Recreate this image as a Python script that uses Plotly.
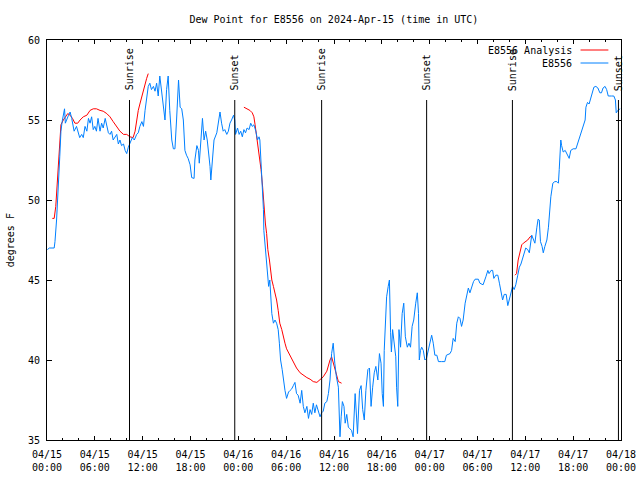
import pandas as pd
import plotly.graph_objects as go

START = pd.Timestamp("2024-04-15 00:00")

# Observed dew point (E8556): hours after start, degrees F
obs_hours = [0.05,0.3,0.9,1.0,1.2,1.4,1.6,1.75,1.9,2.2,2.3,2.7,2.9,3.1,3.3,3.4,3.7,3.9,4.1,4.35,4.55,4.77,5.0,5.2,5.4,5.6,5.8,6.0,6.2,6.4,6.65,6.85,7.05,7.3,7.5,7.7,7.9,8.1,8.3,8.5,8.75,8.95,9.15,9.35,9.6,9.8,10.0,10.2,10.4,10.7,10.95,11.25,11.45,11.65,11.9,12.1,12.3,12.5,12.7,12.9,13.1,13.35,13.55,13.75,13.95,14.15,14.4,14.6,14.8,15.0,15.2,15.4,15.65,15.85,16.05,16.25,16.5,16.7,16.9,17.1,17.3,17.5,17.7,17.95,18.15,18.45,18.55,18.8,19.0,19.1,19.3,19.5,19.7,19.9,20.1,20.3,20.45,20.55,20.75,20.95,21.3,21.5,21.7,21.9,22.1,22.3,22.55,22.75,22.95,23.15,23.4,23.55,23.65,23.9,24.1,24.3,24.5,24.7,24.9,25.1,25.35,25.55,25.75,25.95,26.2,26.4,26.6,26.7,26.85,26.95,27.05,27.15,27.2,27.35,27.5,27.6,27.8,27.95,28.05,28.2,28.4,28.6,28.8,29.0,29.15,29.3,29.5,29.65,29.85,30.05,30.3,30.5,30.7,30.9,31.1,31.3,31.5,31.75,31.95,32.15,32.35,32.6,32.8,33.0,33.2,33.4,33.6,33.8,34.0,34.25,34.45,34.65,34.85,35.1,35.3,35.5,35.7,35.9,36.1,36.3,36.55,36.75,36.9,37.05,37.25,37.4,37.6,37.8,38.0,38.2,38.4,38.65,38.85,38.95,39.2,39.4,39.6,39.8,40.0,40.25,40.45,40.65,40.85,41.05,41.25,41.5,41.7,41.9,42.05,42.2,42.3,42.45,42.6,42.8,42.95,43.1,43.2,43.35,43.5,43.75,43.85,44.0,44.15,44.35,44.55,44.75,44.95,45.2,45.4,45.6,45.8,46.0,46.25,46.45,46.6,46.7,46.85,47.0,47.2,47.4,47.6,47.8,48.05,48.25,48.45,48.65,48.9,49.1,49.5,49.9,50.1,50.55,50.75,50.95,51.2,51.4,51.6,51.8,52.0,52.2,52.45,52.65,52.85,53.05,53.3,53.5,53.7,54.1,54.3,54.7,55.05,55.3,55.45,55.7,55.9,56.05,56.3,56.55,56.75,56.95,57.15,57.35,57.6,57.8,58.0,58.2,58.4,58.6,58.8,59.05,59.25,59.45,59.65,59.85,60.05,60.3,60.5,60.8,61.0,61.2,61.45,61.6,61.75,61.9,62.1,62.25,62.45,62.7,62.9,63.1,63.2,63.45,63.7,63.95,64.15,64.25,64.45,64.55,64.75,65.0,65.25,65.5,65.7,66.0,66.35,66.6,66.9,67.2,67.5,67.6,67.8,68.0,68.2,68.4,68.6,68.85,69.1,69.35,69.55,69.75,70.0,70.2,70.4,70.8,71.1,71.3,71.4,71.6,71.9]
obs_values = [46.9,47.0,47.0,47.4,48.75,50.4,52.7,54.3,54.9,55.7,54.8,55.3,55.5,55.1,54.6,54.3,54.6,54.3,53.9,54.1,53.9,54.6,54.3,55.1,54.8,55.2,54.4,54.6,54.3,55.1,54.3,54.8,54.5,55.1,54.7,54.2,54.1,54.3,53.75,53.9,54.1,53.5,53.75,53.4,53.5,53.1,52.9,53.3,53.5,53.9,53.75,54.1,54.2,54.6,54.9,54.6,55.6,56.5,57.1,57.3,56.9,57.1,56.8,57.3,56.5,57.75,56.7,55.8,55.0,56.9,57.75,55.6,53.75,53.2,53.2,55.0,57.5,55.8,55.7,55.0,53.1,52.8,52.6,52.2,51.4,51.35,52.5,53.4,53.1,52.3,53.5,55.1,53.75,54.3,53.75,52.9,52.1,51.25,52.5,53.75,54.2,54.8,55.5,54.8,54.3,54.4,54.1,54.3,54.8,55.0,55.3,55.0,54.1,54.5,54.1,54.3,53.95,54.4,54.2,54.5,54.4,54.8,54.6,54.7,54.3,53.75,53.95,53.75,52.5,51.7,50.4,49.4,48.1,47.1,46.25,45.4,44.6,45.0,44.0,42.9,42.3,42.5,42.3,41.9,41.05,40.0,39.4,38.75,38.1,37.6,38.0,38.1,38.2,38.4,38.6,37.9,37.8,37.3,38.1,37.1,36.7,37.1,36.35,36.9,36.6,37.3,36.7,37.2,36.9,36.45,36.7,36.8,37.3,37.4,37.9,38.75,40.4,41.05,39.8,38.95,38.3,35.2,36.45,37.4,37.1,36.05,36.6,35.8,35.7,35.6,35.2,37.9,36.25,35.4,38.1,38.4,36.9,36.25,38.1,39.4,39.5,37.1,38.3,39.2,39.6,38.75,40.4,39.8,37.9,37.1,40.6,42.4,43.95,44.6,45.0,41.7,40.5,41.9,41.25,40.2,38.3,37.1,41.9,40.8,42.9,43.55,41.45,40.8,41.05,40.8,42.1,42.5,43.55,44.2,42.9,40.0,40.6,40.8,40.6,40.0,40.1,40.6,41.15,41.55,41.05,40.3,40.3,39.9,39.9,39.9,40.3,40.4,40.6,41.35,41.15,42.3,42.7,42.6,42.1,42.5,43.55,43.95,44.5,44.2,44.6,44.9,45.05,45.05,44.8,44.7,45.2,45.6,45.4,45.6,45.6,45.1,45.3,45.3,44.8,44.3,43.75,44.1,44.1,43.4,43.85,44.3,44.6,44.4,44.7,45.3,45.8,46.0,46.35,46.6,47.0,46.9,46.7,47.8,47.5,47.3,48.3,48.8,48.75,47.4,47.1,46.7,47.1,47.5,48.3,49.4,50.2,51.05,51.15,51.15,51.05,51.9,53.75,53.4,53.0,53.1,52.8,52.6,53.1,53.2,53.2,53.6,54.1,54.6,55.0,55.8,56.1,56.0,56.35,56.7,57.05,57.1,57.0,56.7,56.7,57.0,57.1,56.9,56.5,56.5,56.5,56.25,55.45,55.6,55.7]

# Analysis (three segments separated by gaps)
ana_hours = [0.67,0.9,1.1,1.25,1.4,1.6,1.75,2.05,2.35,2.6,2.9,3.2,3.5,3.85,4.15,4.55,5.0,5.4,5.8,6.2,6.65,7.05,7.5,7.9,8.3,8.75,9.15,9.6,10.0,10.4,10.8,11.05,11.25,11.45,11.65,11.9,12.1,12.3,12.5,12.7,
             12.8,
             24.7,25.1,25.45,25.75,25.95,26.1,26.3,26.5,26.7,26.85,27.05,27.2,27.4,27.55,27.7,27.9,28.05,28.2,28.4,28.6,28.8,29.0,29.2,29.45,29.65,29.85,30.05,30.5,30.9,31.3,31.75,32.15,32.6,33.0,33.4,33.85,34.25,34.65,35.1,35.3,35.5,35.7,35.9,36.1,36.35,36.55,36.95,
             37.0,
             58.7,58.9,59.1,59.35,59.55,59.75,60.05,60.3,60.6,60.85]
ana_values = [48.85,48.85,49.6,50.8,52.5,53.95,54.7,55.0,55.2,55.4,55.3,55.1,54.8,54.8,55.0,55.2,55.3,55.6,55.7,55.7,55.6,55.55,55.4,55.2,54.9,54.6,54.3,54.1,54.1,53.95,53.9,54.3,55.0,55.6,56.0,56.5,56.9,57.3,57.6,57.9,
              None,
              55.8,55.7,55.6,55.45,55.2,54.7,53.95,53.3,52.7,51.9,50.8,49.6,48.5,47.9,46.9,46.25,45.6,45.0,44.6,44.2,43.75,43.1,42.3,41.9,41.35,41.05,40.7,40.3,39.9,39.5,39.2,39.05,38.9,38.8,38.65,38.6,38.8,38.95,39.3,39.7,40.0,40.2,39.8,39.4,38.95,38.65,38.55,
              None,
              45.3,45.4,46.25,46.8,47.2,47.3,47.4,47.5,47.7,47.75]

sun_labels = ["Sunrise", "Sunset", "Sunrise", "Sunset", "Sunrise", "Sunset"]
sun_hours = [10.35, 23.55, 34.45, 47.62, 58.38, 71.68]

tick_hours = list(range(0, 73, 6))

def to_time(hours):
    return [START + pd.Timedelta(hours=h) for h in hours]

FONT = "DejaVu Sans Mono"
RED = "#ff0000"
BLUE = "#0080ff"

fig = go.Figure()
fig.add_trace(go.Scatter(x=to_time(ana_hours), y=ana_values, mode="lines",
                         name="E8556 Analysis", line=dict(color=RED, width=1),
                         connectgaps=False, showlegend=False))
fig.add_trace(go.Scatter(x=to_time(obs_hours), y=obs_values, mode="lines",
                         name="E8556", line=dict(color=BLUE, width=1),
                         showlegend=False))

# Sunrise / sunset markers
for lab, h in zip(sun_labels, sun_hours):
    t = START + pd.Timedelta(hours=h)
    fig.add_shape(type="line", xref="x", yref="paper", x0=t, x1=t, y0=0, y1=0.85,
                  line=dict(color="black", width=1))
    fig.add_annotation(x=t, xref="x", y=0.868, yref="paper", text=lab, textangle=-90,
                       showarrow=False, xanchor="center", yanchor="bottom",
                       font=dict(family=FONT, size=10, color="black"))

# Manual legend (text then line sample, like the original)
legend_items = [("E8556 Analysis", RED), ("E8556", BLUE)]
for i, (name, col) in enumerate(legend_items):
    yp = 0.975 - i * 0.0325
    fig.add_annotation(x=0.9173, xref="paper", y=yp, yref="paper", text=name,
                       showarrow=False, xanchor="right", yanchor="middle",
                       font=dict(family=FONT, size=10, color="black"))
    fig.add_shape(type="line", xref="paper", yref="paper", x0=0.9295, x1=0.978,
                  y0=yp, y1=yp, line=dict(color=col, width=1))

# y-axis title
fig.add_annotation(x=-0.064, xref="paper", y=0.5, yref="paper", text="degrees F",
                   textangle=-90, showarrow=False, xanchor="center", yanchor="middle",
                   font=dict(family=FONT, size=10, color="black"))

tick_times = to_time(tick_hours)
tick_text = [t.strftime("%m/%d") + "<br>" + t.strftime("%H:%M") for t in tick_times]

fig.update_layout(
    width=640, height=480,
    margin=dict(l=47, r=19, t=40, b=40, autoexpand=False),
    paper_bgcolor="white", plot_bgcolor="white",
    font=dict(family=FONT, size=10, color="black"),
    title=dict(text="Dew Point for E8556 on 2024-Apr-15 (time in UTC)",
               x=0.5217, xanchor="center", y=1 - 19 / 480, yanchor="middle",
               yref="container", font=dict(family=FONT, size=10, color="black")),
    xaxis=dict(type="date", range=[tick_times[0], tick_times[-1]], automargin=False,
               tickmode="array", tickvals=tick_times, ticktext=tick_text,
               ticks="inside", ticklen=4, tickcolor="black", tickwidth=1,
               ticklabelstandoff=5,
               showline=True, linecolor="black", linewidth=1, mirror="allticks",
               showgrid=False, zeroline=False,
               minor=dict(tickmode="linear", tick0=tick_times[0], dtick=2 * 3600 * 1000,
                          ticks="inside", ticklen=2, tickcolor="black", showgrid=False),
               tickfont=dict(family=FONT, size=10, color="black")),
    yaxis=dict(range=[35, 60], tickmode="linear", tick0=35, dtick=5, automargin=False,
               ticks="inside", ticklen=5, tickcolor="black", tickwidth=1,
               ticklabelstandoff=4,
               showline=True, linecolor="black", linewidth=1, mirror="allticks",
               showgrid=False, zeroline=False,
               tickfont=dict(family=FONT, size=10, color="black")),
)

fig.write_html("out.html")
